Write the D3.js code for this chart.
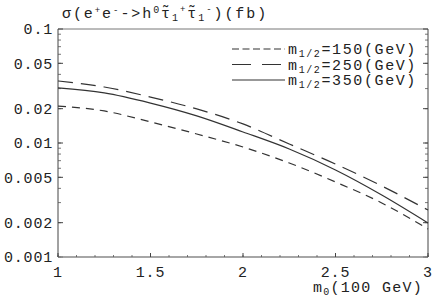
<!DOCTYPE html>
<html>
<head>
<meta charset="utf-8">
<script src="https://cdn.jsdelivr.net/npm/d3@7.9.0/dist/d3.min.js"></script>
<style>
  body { margin: 0; background: #fff; }
  svg { display: block; }
  text { font-family: "Liberation Mono", "DejaVu Sans Mono", monospace; fill: #222; }
</style>
</head>
<body>
<div id="chart"></div>
<script>
// m0 values (100 GeV)
const m0 = [1, 1.25, 1.5, 1.75, 2, 2.25, 2.5, 2.75, 3];
// cross sections (fb)
const sigma150 = [0.0211, 0.0191, 0.0153, 0.0120, 0.00922, 0.00668, 0.00455, 0.00298, 0.00176];
const sigma250 = [0.0350, 0.0310, 0.0253, 0.0199, 0.0147, 0.00980, 0.00654, 0.00420, 0.00258];
const sigma350 = [0.0304, 0.0275, 0.0224, 0.0173, 0.0125, 0.00886, 0.00580, 0.00350, 0.00199];

const xTicks = [1, 1.5, 2, 2.5, 3];
const yTicks = [0.1, 0.05, 0.02, 0.01, 0.005, 0.002, 0.001];
const yTickLabels = ['0.1', '0.05', '0.02', '0.01', '0.005', '0.002', '0.001'];

const series = [
  { label: '150', values: sigma150, dash: '8,6', legendDash: '7,3.5' },
  { label: '250', values: sigma250, dash: '15,8', legendDash: '19,11' },
  { label: '350', values: sigma350, dash: null, legendDash: null }
];

const width = 436;
const height = 300;
const margin = { top: 29, right: 8, bottom: 43, left: 58 };

const svg = d3.select('#chart')
  .append('svg')
  .attr('width', width)
  .attr('height', height);

const x = d3.scaleLinear().domain([1, 3]).range([margin.left, width - margin.right]);
const y = d3.scaleLog().domain([0.001, 0.1]).range([height - margin.bottom, margin.top]);

// stretch a text to a given width with letter-spacing (Mathematica spacing is wide)
function fitWidth(sel, target) {
  const node = sel.node();
  const len = node.getComputedTextLength();
  const n = node.textContent.length;
  sel.style('letter-spacing', ((target - len) / n) + 'px');
}

// minor y ticks at every multiple inside each decade
const yMinor = [];
for (let p = -3; p < -1; p++) {
  for (let k = 1; k < 10; k++) yMinor.push(k * Math.pow(10, p));
}
const xMinor = d3.range(1, 3.0001, 0.1);

// frame
svg.append('line')
  .attr('x1', x(1)).attr('x2', x(3)).attr('y1', y(0.1)).attr('y2', y(0.1))
  .attr('stroke', '#777').attr('stroke-width', 1);
svg.append('line')
  .attr('x1', x(3)).attr('x2', x(3)).attr('y1', y(0.1)).attr('y2', y(0.001))
  .attr('stroke', '#444').attr('stroke-width', 1);

// left axis
const left = svg.append('g').attr('transform', `translate(${margin.left},0)`);
left.append('line').attr('y1', y(0.1)).attr('y2', y(0.001)).attr('stroke', '#444');
left.selectAll('.minor').data(yMinor).join('line')
  .attr('x1', 0).attr('x2', 3).attr('y1', d => y(d)).attr('y2', d => y(d))
  .attr('stroke', '#555').attr('stroke-width', 0.8);
left.selectAll('.major').data(yTicks).join('line')
  .attr('x1', 0).attr('x2', 5).attr('y1', d => y(d)).attr('y2', d => y(d))
  .attr('stroke', '#444');
left.selectAll('text').data(yTicks).join('text')
  .attr('x', -5).attr('y', d => y(d)).attr('dy', '0.35em')
  .attr('text-anchor', 'end')
  .style('font-size', '15px').style('letter-spacing', '0.8px')
  .text((d, i) => yTickLabels[i]);

// right side ticks
const right = svg.append('g').attr('transform', `translate(${x(3)},0)`);
right.selectAll('.minor').data(yMinor).join('line')
  .attr('x1', 0).attr('x2', -3).attr('y1', d => y(d)).attr('y2', d => y(d))
  .attr('stroke', '#555').attr('stroke-width', 0.8);
right.selectAll('.major').data(yTicks).join('line')
  .attr('x1', 0).attr('x2', -5).attr('y1', d => y(d)).attr('y2', d => y(d))
  .attr('stroke', '#444');

// bottom axis
const bottom = svg.append('g').attr('transform', `translate(0,${y(0.001)})`);
bottom.append('line').attr('x1', x(1)).attr('x2', x(3))
  .attr('stroke', '#888').attr('stroke-width', 1.6);
bottom.selectAll('.minor').data(xMinor).join('line')
  .attr('x1', d => x(d)).attr('x2', d => x(d)).attr('y1', 0).attr('y2', -2)
  .attr('stroke', '#555').attr('stroke-width', 0.8);
bottom.selectAll('.major').data(xTicks).join('line')
  .attr('x1', d => x(d)).attr('x2', d => x(d)).attr('y1', 0).attr('y2', -4)
  .attr('stroke', '#444');
bottom.selectAll('text').data(xTicks).join('text')
  .attr('x', d => x(d)).attr('y', 20)
  .attr('text-anchor', 'middle')
  .style('font-size', '15px').style('letter-spacing', '0.8px')
  .text(d => String(d));

// curves
const line = d3.line()
  .x((d, i) => x(m0[i]))
  .y(d => y(d))
  .curve(d3.curveMonotoneX);

svg.selectAll('.curve').data(series).join('path')
  .attr('class', 'curve')
  .attr('d', d => line(d.values))
  .attr('fill', 'none')
  .attr('stroke', '#333')
  .attr('stroke-width', 1.2)
  .attr('stroke-dasharray', d => d.dash);

// legend
const legend = svg.append('g');
series.forEach((s, i) => {
  const ly = 49 + i * 15.5;
  legend.append('line')
    .attr('x1', 232).attr('x2', 285).attr('y1', ly).attr('y2', ly)
    .attr('stroke', '#333').attr('stroke-width', 1.2)
    .attr('stroke-dasharray', s.legendDash);
  const t = legend.append('text').attr('x', 288).attr('y', ly + 5)
    .style('font-size', '15px');
  t.append('tspan').text('m');
  t.append('tspan').attr('dy', 3).style('font-size', '10px').text('1/2');
  t.append('tspan').attr('dy', -3).text('=' + s.label + '(GeV)');
  fitWidth(t, 129);
});

// title
const title = svg.append('text').attr('x', 62).attr('y', 18).style('font-size', '15px');
title.append('tspan').text('σ(e');
title.append('tspan').attr('dy', -5).style('font-size', '9px').text('+');
title.append('tspan').attr('dy', 5).text('e');
title.append('tspan').attr('dy', -5).style('font-size', '9px').text('-');
title.append('tspan').attr('dy', 5).text('->h');
title.append('tspan').attr('dy', -5).style('font-size', '10px').text('0');
title.append('tspan').attr('dy', 5).text('τ̃');
title.append('tspan').attr('dy', 3).style('font-size', '10px').text('1');
title.append('tspan').attr('dy', -9).style('font-size', '9px').text('+');
title.append('tspan').attr('dy', 6).text('τ̃');
title.append('tspan').attr('dy', 3).style('font-size', '10px').text('1');
title.append('tspan').attr('dy', -9).style('font-size', '9px').text('-');
title.append('tspan').attr('dy', 6).text(')(fb)');
fitWidth(title, 210);

// x-axis label
const xl = svg.append('text').attr('x', 313).attr('y', 292)
  .style('font-size', '15px');
xl.append('tspan').text('m');
xl.append('tspan').attr('dy', 3).style('font-size', '10px').text('0');
xl.append('tspan').attr('dy', -3).text('(100 GeV)');
fitWidth(xl, 110);
</script>
</body>
</html>
